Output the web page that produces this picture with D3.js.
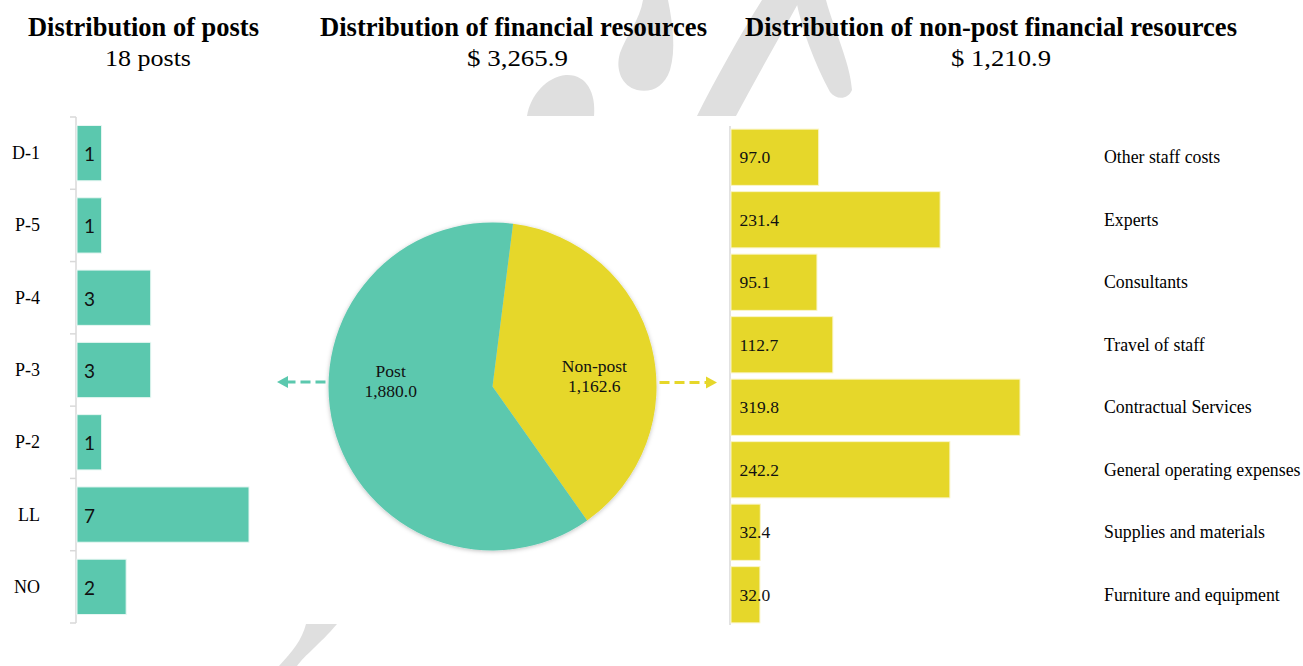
<!DOCTYPE html>
<html>
<head>
<meta charset="utf-8">
<script src="https://cdn.jsdelivr.net/npm/d3@7"></script>
<style>
  html, body { margin: 0; padding: 0; background: #ffffff; }
  svg { display: block; }
</style>
</head>
<body>
<svg id="chart" width="1303" height="666"></svg>
<script>
// ---- Data ----
const postGrades = ["D-1", "P-5", "P-4", "P-3", "P-2", "LL", "NO"];
const postCounts = [1, 1, 3, 3, 1, 7, 2];

const resourceLabels = ["Non-post", "Post"];
const resourceValues = [1162.6, 1880.0];

const nonPostCategories = [
  "Other staff costs", "Experts", "Consultants", "Travel of staff",
  "Contractual Services", "General operating expenses",
  "Supplies and materials", "Furniture and equipment"
];
const nonPostValues = [97.0, 231.4, 95.1, 112.7, 319.8, 242.2, 32.4, 32.0];

const titles = [
  "Distribution of posts",
  "Distribution of financial resources",
  "Distribution of non-post financial resources"
];
const subtitles = ["18 posts", "$ 3,265.9", "$ 1,210.9"];

// ---- Style ----
const TEAL = "#5bc8ae";
const YELLOW = "#e6d72a";
const SERIF = "'Liberation Serif', 'Times New Roman', serif";
const SANS = "Lato, 'Open Sans', sans-serif";
const AXIS = "#d9d9d9";
const WATERMARK = "#dfdfdf";

const svg = d3.select("#chart");

// ---- Background emblem (light grey), partly hidden behind the plot panel ----
const emblem = svg.append("g").attr("fill", WATERMARK);
emblem.append("path").attr("d", "M527,116 C530,96 546,77 566,75 C586,74 596,92 594,116 Z");
emblem.append("path").attr("d", "M643,0 L668,0 C673,25 676,50 670,70 C664,88 650,93 637,90 C622,86 615,70 620,53 C626,36 640,20 643,0 Z");
emblem.append("path").attr("d", "M697,116 C715,80 740,35 762,0 L800,0 C778,40 755,80 736,116 Z");
emblem.append("path").attr("d", "M796,0 L826,0 C834,30 850,62 852,90 C848,100 836,100 830,92 C814,62 802,30 796,0 Z");
emblem.append("path").attr("d", "M306,624 L337,624 C319,645 305,655 297,666 L279,666 C292,652 302,640 306,624 Z");

// white plot panel
svg.append("rect").attr("x", 0).attr("y", 116).attr("width", 1303).attr("height", 508).attr("fill", "#ffffff");

// ---- Titles ----
const titleX = [143.5, 513.5, 991];
const titleW = [231, 387, 492];
const subX = [148, 517.5, 1001];
const subW = [86, 101, 100];
titles.forEach((t, i) => {
  svg.append("text")
    .attr("x", titleX[i]).attr("y", 36)
    .attr("text-anchor", "middle")
    .attr("font-family", SERIF).attr("font-weight", "bold").attr("font-size", 27)
    .attr("textLength", titleW[i]).attr("lengthAdjust", "spacingAndGlyphs")
    .attr("fill", "#000").text(t);
  svg.append("text")
    .attr("x", subX[i]).attr("y", 66)
    .attr("text-anchor", "middle")
    .attr("font-family", SERIF).attr("font-size", 24)
    .attr("textLength", subW[i]).attr("lengthAdjust", "spacingAndGlyphs")
    .attr("fill", "#000").text(subtitles[i]);
});

// ---- Left: posts by grade ----
const yPosts = d3.scaleBand().domain(postGrades).range([117, 623])
  .paddingInner(0.235).paddingOuter(0.1175);
const xPosts = d3.scaleLinear().domain([0, 7]).range([77, 249]);

const leftAxisG = svg.append("g");
leftAxisG.append("line")
  .attr("x1", 76).attr("x2", 76).attr("y1", 117).attr("y2", 623)
  .attr("stroke", AXIS).attr("stroke-width", 1.5);
const boundaries = postGrades.map(g => yPosts(g) - yPosts.step() * yPosts.paddingInner() / 2)
  .concat([623]);
boundaries[0] = 117;
leftAxisG.selectAll("line.tick").data(boundaries).join("line")
  .attr("class", "tick")
  .attr("x1", 70).attr("x2", 76)
  .attr("y1", d => d).attr("y2", d => d)
  .attr("stroke", AXIS).attr("stroke-width", 1.5);

svg.append("g").selectAll("rect").data(postCounts).join("rect")
  .attr("x", xPosts(0))
  .attr("y", (d, i) => yPosts(postGrades[i]))
  .attr("width", d => xPosts(d) - xPosts(0))
  .attr("height", yPosts.bandwidth())
  .attr("fill", TEAL)
  .attr("stroke", "#e8f7f3").attr("stroke-width", 1);

svg.append("g").selectAll("text").data(postCounts).join("text")
  .attr("x", xPosts(0) + 7)
  .attr("y", (d, i) => yPosts(postGrades[i]) + yPosts.bandwidth() / 2 + 8)
  .attr("font-family", SANS).attr("font-size", 19)
  .attr("fill", "#111").text(d => d);

svg.append("g").selectAll("text").data(postGrades).join("text")
  .attr("x", 40)
  .attr("y", d => yPosts(d) + yPosts.bandwidth() / 2 + 6)
  .attr("text-anchor", "end")
  .attr("font-family", SERIF).attr("font-size", 18)
  .attr("fill", "#000").text(d => d);

// ---- Centre: pie of financial resources ----
const cx = 492.5, cy = 386.5, R = 164;
const defs = svg.append("defs");
const shadow = defs.append("filter").attr("id", "pieShadow")
  .attr("x", "-10%").attr("y", "-10%").attr("width", "120%").attr("height", "120%");
shadow.append("feDropShadow").attr("dx", 0).attr("dy", 1)
  .attr("stdDeviation", 2).attr("flood-color", "#000").attr("flood-opacity", 0.25);

const startA = 7.2 * Math.PI / 180;
const pie = d3.pie().sort(null).startAngle(startA).endAngle(startA + 2 * Math.PI);
const arcs = pie(resourceValues);
const arc = d3.arc().innerRadius(0).outerRadius(R);
const pieG = svg.append("g").attr("transform", `translate(${cx},${cy})`);
pieG.append("g").attr("filter", "url(#pieShadow)")
  .selectAll("path").data(arcs).join("path")
  .attr("d", arc)
  .attr("fill", (d, i) => i === 0 ? YELLOW : TEAL);

const labelArc = d3.arc().innerRadius(R * 0.64).outerRadius(R * 0.64);
const labelYOffset = [-15, -10];
arcs.forEach((a, i) => {
  const [lx] = labelArc.centroid(a);
  const t = pieG.append("text")
    .attr("text-anchor", "middle")
    .attr("font-family", SERIF).attr("font-size", 17.5).attr("fill", "#111");
  t.append("tspan").attr("x", lx).attr("y", labelYOffset[i]).text(resourceLabels[i]);
  t.append("tspan").attr("x", lx).attr("y", labelYOffset[i] + 20.5)
    .text(d3.format(",.1f")(resourceValues[i]));
});

// dashed arrows leading to the side panels
function dashedArrow(x1, x2, y, color) {
  const dir = Math.sign(x2 - x1);
  const head = 11;
  svg.append("line")
    .attr("x1", x1).attr("x2", x2 - dir * head).attr("y1", y).attr("y2", y)
    .attr("stroke", color).attr("stroke-width", 3)
    .attr("stroke-dasharray", "10,5");
  svg.append("path")
    .attr("d", `M${x2},${y} L${x2 - dir * head},${y - 6} L${x2 - dir * head},${y + 6} Z`)
    .attr("fill", color);
}
dashedArrow(cx - R - 3, 277, 382, TEAL);
dashedArrow(cx + R + 3, 717, 382.5, YELLOW);

// ---- Right: non-post resources ----
const yNP = d3.scaleBand().domain(nonPostCategories).range([126, 626])
  .paddingInner(0.1).paddingOuter(0.05);
const xNP = d3.scaleLinear().domain([0, 319.8]).range([731, 1020]);

svg.append("line")
  .attr("x1", 730).attr("x2", 730).attr("y1", 126).attr("y2", 625)
  .attr("stroke", AXIS).attr("stroke-width", 1.5);

svg.append("g").selectAll("rect").data(nonPostValues).join("rect")
  .attr("x", xNP(0))
  .attr("y", (d, i) => yNP(nonPostCategories[i]))
  .attr("width", d => xNP(d) - xNP(0))
  .attr("height", yNP.bandwidth())
  .attr("fill", YELLOW)
  .attr("stroke", "#faf5c8").attr("stroke-width", 1);

svg.append("g").selectAll("text").data(nonPostValues).join("text")
  .attr("x", xNP(0) + 8.5)
  .attr("y", (d, i) => yNP(nonPostCategories[i]) + yNP.bandwidth() / 2 + 6)
  .attr("font-family", SERIF).attr("font-size", 17.5)
  .attr("fill", "#111").text(d => d3.format(".1f")(d));

svg.append("g").selectAll("text").data(nonPostCategories).join("text")
  .attr("x", 1104)
  .attr("y", d => yNP(d) + yNP.bandwidth() / 2 + 6)
  .attr("font-family", SERIF).attr("font-size", 17.8)
  .attr("fill", "#000").text(d => d);
</script>
</body>
</html>
